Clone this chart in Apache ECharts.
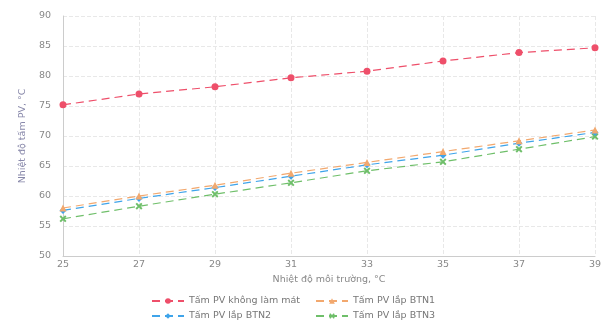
<!DOCTYPE html>
<html>
<head>
<meta charset="utf-8">
<script src="https://cdn.jsdelivr.net/npm/echarts@6/dist/echarts.min.js"></script>
<style>html,body{margin:0;padding:0;background:#fff}#c{width:612px;height:327px}</style>
</head>
<body>
<div id="c"></div>
<script>
const categories = ['25','27','29','31','33','35','37','39'];
const seriesNames = ['Tấm PV không làm mát','Tấm PV lắp BTN1','Tấm PV lắp BTN2','Tấm PV lắp BTN3'];
const noCooling = [75.2, 77.0, 78.2, 79.7, 80.8, 82.5, 83.9, 84.7];
const btn1 = [58.0, 60.0, 61.8, 63.8, 65.6, 67.4, 69.2, 71.0];
const btn2 = [57.6, 59.6, 61.4, 63.3, 65.2, 66.8, 68.8, 70.6];
const btn3 = [56.2, 58.3, 60.3, 62.2, 64.2, 65.7, 67.8, 69.9];
const xTitle = 'Nhiệt độ môi trường, °C';
const yTitle = 'Nhiệt độ tấm PV, °C';

const colors = ['#ee4f6a','#f2a86e','#3fa4ea','#6fbf6a'];
const xPath = 'path://M2,0L5,3L8,0L10,2L7,5L10,8L8,10L5,7L2,10L0,8L3,5L0,2Z';
const symbols = ['circle','triangle','diamond',xPath];
const symSizes = [7,7,7,7];
const dataSets = [noCooling, btn1, btn2, btn3];

const chart = echarts.init(document.getElementById('c'));
const legendPos = [[146,291],[310,291],[146,306],[310,306]];
chart.setOption({
  animation:false,
  backgroundColor:'#fff',
  grid:{left:63,right:17,top:16,bottom:71},
  legend: seriesNames.map((n,i)=>({
    data:[n], left:legendPos[i][0], top:legendPos[i][1],
    itemWidth:32, itemHeight:7, itemGap:6,
    textStyle:{color:'#777',fontSize:9.5,fontFamily:'DejaVu Sans'}
  })),
  xAxis:{
    type:'category', data:categories, boundaryGap:false,
    name:xTitle, nameLocation:'middle', nameGap:17,
    nameTextStyle:{color:'#888',fontSize:9.5,fontFamily:'DejaVu Sans'},
    axisLine:{lineStyle:{color:'#ccc'}}, axisTick:{show:false},
    axisLabel:{color:'#888',fontSize:9.5,fontFamily:'DejaVu Sans',margin:4},
    splitLine:{show:true,lineStyle:{color:'#e8e8e8',type:'dashed'}}
  },
  yAxis:{
    type:'value', min:50, max:90, interval:5,
    name:yTitle, nameLocation:'middle', nameGap:28, nameRotate:90,
    nameTextStyle:{color:'#8888aa',fontSize:9.5,fontFamily:'DejaVu Sans'},
    axisLine:{show:true,lineStyle:{color:'#ccc'}}, axisTick:{show:false},
    axisLabel:{color:'#888',fontSize:9.5,fontFamily:'DejaVu Sans',margin:12},
    splitLine:{show:true,lineStyle:{color:'#e8e8e8',type:'dashed'}}
  },
  series: seriesNames.map((n,i)=>({
    name:n, type:'line', data:dataSets[i],
    symbol:symbols[i], symbolSize:symSizes[i],
    lineStyle:{color:colors[i],width:1.2,type:[8,5]},
    itemStyle:{color:colors[i]},
    z: 10-i
  }))
});
</script>
</body>
</html>
